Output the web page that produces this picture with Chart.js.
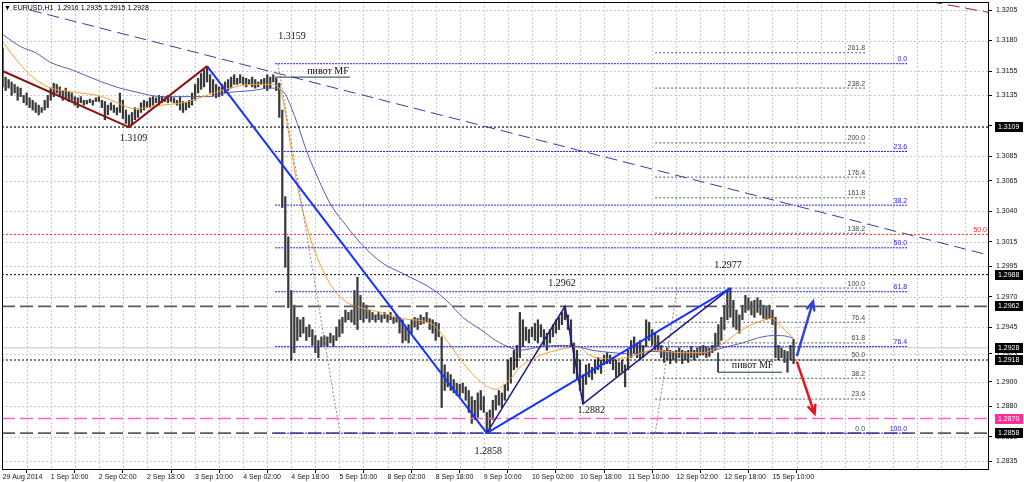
<!DOCTYPE html>
<html>
<head>
<meta charset="utf-8">
<title>EURUSD,H1</title>
<script src="https://cdn.jsdelivr.net/npm/chart.js@4.4.1/dist/chart.umd.min.js"></script>
<style>
  html, body { margin: 0; padding: 0; background: #fff; }
  canvas { display: block; }
</style>
</head>
<body>
<canvas id="chart" width="1024" height="482"></canvas>
<script>
// EURUSD H1, 29 Aug - 15 Sep 2014, one entry per hourly bar
const highs = [
  1.3174,1.3150,1.3148,1.3146,1.3144,1.3142,1.3141,1.3135,1.3137,1.3133,
  1.3131,1.3129,1.3127,1.3125,1.3131,1.3135,1.3141,1.3145,1.3144,1.3142,
  1.3139,1.3141,1.3138,1.3137,1.3134,1.3133,1.3134,1.3131,1.3131,1.3132,
  1.3131,1.3133,1.3134,1.3131,1.3130,1.3127,1.3129,1.3127,1.3125,1.3137,
  1.3131,1.3123,1.3119,1.3121,1.3125,1.3123,1.3129,1.3131,1.3130,1.3133,
  1.3134,1.3133,1.3135,1.3134,1.3133,1.3135,1.3134,1.3133,1.3131,1.3134,
  1.3130,1.3129,1.3131,1.3137,1.3144,1.3149,1.3153,1.3156,1.3159,1.3152,
  1.3148,1.3144,1.3142,1.3144,1.3146,1.3148,1.3150,1.3152,1.3149,1.3152,
  1.3150,1.3149,1.3148,1.3150,1.3148,1.3146,1.3148,1.3149,1.3152,1.3150,
  1.3152,1.3149,1.3145,1.3123,1.3052,1.3019,1.2975,1.2963,1.2953,1.2951,
  1.2953,1.2945,1.2947,1.2943,1.2938,1.2934,1.2937,1.2938,1.2937,1.2940,
  1.2938,1.2945,1.2951,1.2953,1.2959,1.2957,1.2959,1.2975,1.2986,1.2971,
  1.2965,1.2963,1.2959,1.2957,1.2955,1.2957,1.2955,1.2957,1.2955,1.2957,
  1.2953,1.2955,1.2953,1.2951,1.2945,1.2947,1.2951,1.2953,1.2952,1.2955,
  1.2953,1.2957,1.2952,1.2951,1.2949,1.2948,1.2937,1.2914,1.2908,1.2906,
  1.2902,1.2899,1.2898,1.2899,1.2896,1.2893,1.2888,1.2885,1.2891,1.2893,
  1.2888,1.2875,1.2877,1.2885,1.2889,1.2893,1.2891,1.2898,1.2918,1.2920,
  1.2926,1.2930,1.2957,1.2951,1.2945,1.2943,1.2945,1.2948,1.2951,1.2947,
  1.2943,1.2940,1.2943,1.2947,1.2951,1.2953,1.2957,1.2962,1.2955,1.2951,
  1.2932,1.2926,1.2918,1.2906,1.2914,1.2915,1.2912,1.2918,1.2920,1.2918,
  1.2922,1.2924,1.2922,1.2920,1.2918,1.2916,1.2918,1.2914,1.2926,1.2934,
  1.2937,1.2932,1.2934,1.2930,1.2951,1.2949,1.2943,1.2940,1.2938,1.2930,
  1.2926,1.2928,1.2926,1.2925,1.2926,1.2928,1.2926,1.2925,1.2926,1.2929,
  1.2926,1.2928,1.2929,1.2930,1.2929,1.2928,1.2930,1.2940,1.2947,1.2953,
  1.2963,1.2975,1.2977,1.2967,1.2959,1.2955,1.2963,1.2971,1.2969,1.2966,
  1.2967,1.2969,1.2967,1.2963,1.2961,1.2963,1.2959,1.2953,1.2930,1.2928,
  1.2926,1.2925,1.2930,1.2935
];
const lows = [
  1.3142,1.3139,1.3141,1.3135,1.3137,1.3131,1.3134,1.3129,1.3127,1.3125,
  1.3123,1.3121,1.3119,1.3121,1.3123,1.3125,1.3131,1.3134,1.3137,1.3134,
  1.3131,1.3133,1.3130,1.3131,1.3127,1.3125,1.3129,1.3127,1.3128,1.3129,
  1.3127,1.3130,1.3130,1.3125,1.3115,1.3119,1.3123,1.3121,1.3119,1.3121,
  1.3116,1.3112,1.3109,1.3111,1.3115,1.3117,1.3121,1.3123,1.3125,1.3125,
  1.3127,1.3129,1.3127,1.3129,1.3130,1.3129,1.3130,1.3129,1.3127,1.3123,
  1.3121,1.3123,1.3125,1.3127,1.3131,1.3137,1.3140,1.3142,1.3146,1.3137,
  1.3135,1.3133,1.3134,1.3135,1.3137,1.3139,1.3141,1.3144,1.3144,1.3145,
  1.3144,1.3142,1.3144,1.3142,1.3141,1.3142,1.3144,1.3141,1.3139,1.3141,
  1.3146,1.3139,1.3117,1.3043,1.2994,1.2961,1.2918,1.2924,1.2934,1.2937,
  1.2940,1.2934,1.2937,1.2930,1.2924,1.2920,1.2929,1.2930,1.2929,1.2932,
  1.2929,1.2934,1.2937,1.2940,1.2949,1.2951,1.2949,1.2947,1.2943,1.2951,
  1.2949,1.2952,1.2949,1.2951,1.2949,1.2951,1.2949,1.2952,1.2949,1.2951,
  1.2948,1.2949,1.2940,1.2932,1.2934,1.2932,1.2940,1.2945,1.2943,1.2947,
  1.2948,1.2949,1.2943,1.2940,1.2934,1.2937,1.2879,1.2893,1.2896,1.2893,
  1.2891,1.2889,1.2888,1.2891,1.2885,1.2875,1.2866,1.2869,1.2871,1.2877,
  1.2875,1.2858,1.2861,1.2869,1.2877,1.2881,1.2879,1.2885,1.2893,1.2899,
  1.2910,1.2912,1.2920,1.2929,1.2934,1.2932,1.2937,1.2934,1.2932,1.2937,
  1.2930,1.2926,1.2932,1.2937,1.2940,1.2943,1.2947,1.2951,1.2943,1.2929,
  1.2907,1.2902,1.2893,1.2882,1.2898,1.2904,1.2902,1.2907,1.2910,1.2907,
  1.2914,1.2915,1.2915,1.2910,1.2904,1.2906,1.2908,1.2896,1.2910,1.2920,
  1.2924,1.2920,1.2918,1.2920,1.2929,1.2934,1.2930,1.2926,1.2926,1.2920,
  1.2916,1.2918,1.2915,1.2918,1.2916,1.2920,1.2915,1.2918,1.2916,1.2920,
  1.2918,1.2920,1.2922,1.2922,1.2920,1.2921,1.2924,1.2926,1.2929,1.2934,
  1.2943,1.2951,1.2953,1.2945,1.2943,1.2940,1.2951,1.2957,1.2959,1.2955,
  1.2953,1.2957,1.2955,1.2952,1.2951,1.2952,1.2947,1.2920,1.2918,1.2920,
  1.2916,1.2908,1.2918,1.2915
];

// moving averages at a few bars
const maBars = [0,6,11,16,23,33,39,44,53,60,63,69,74,83,89,92,94,96,98,101,
  104,109,114,119,126,133,143,148,153,159,164,169,172,179,186,191,196,203,209,216,
  226,233,238,241,246,251,256,259,263];
const maFast = [1.3179,1.3160,1.3148,1.3141,1.3138,1.3134,1.3128,1.3124,1.3127,1.3129,
  1.3131,1.3136,1.3140,1.3144,1.3144,1.3141,1.3121,1.3090,1.3061,1.3029,
  1.3006,1.2980,1.2966,1.2961,1.2957,1.2952,1.2947,1.2933,1.2916,1.2900,
  1.2894,1.2903,1.2912,1.2922,1.2927,1.2929,1.2921,1.2919,1.2921,1.2926,
  1.2924,1.2924,1.2929,1.2934,1.2943,1.2949,1.2952,1.2945,1.2936];
const maSlow = [1.3185,1.3175,1.3170,1.3162,1.3156,1.3146,1.3141,1.3138,1.3134,1.3134,
  1.3134,1.3134,1.3137,1.3139,1.3141,1.3140,1.3136,1.3125,1.3112,1.3090,
  1.3072,1.3046,1.3029,1.3014,1.2998,1.2989,1.2976,1.2966,1.2953,1.2943,
  1.2934,1.2928,1.2926,1.2929,1.2930,1.2929,1.2926,1.2924,1.2923,1.2925,
  1.2924,1.2924,1.2927,1.2929,1.2932,1.2936,1.2938,1.2938,1.2936];

// axes
const xTickBars = [0,16,32,48,64,80,96,112,128,144,160,176,192,208,224,240,256];
const xTickLabels = ['29 Aug 2014','1 Sep 10:00','2 Sep 02:00','2 Sep 18:00','3 Sep 10:00',
  '4 Sep 02:00','4 Sep 18:00','5 Sep 10:00','8 Sep 02:00','8 Sep 18:00','9 Sep 10:00',
  '10 Sep 02:00','10 Sep 18:00','11 Sep 10:00','12 Sep 02:00','12 Sep 18:00','15 Sep 10:00'];
const yTicks = [1.3205,1.3180,1.3155,1.3135,1.3110,1.3085,1.3065,1.3040,1.3015,1.2995,
  1.2970,1.2945,1.2923,1.2900,1.2880,1.2855,1.2835];
const X_MIN = -0.2, X_MAX = 328;
const Y_MIN = 1.28278, Y_MAX = 1.32116;

// horizontal levels
const dottedLevels = [1.3109, 1.2988, 1.2918];
const dashedLevels = [1.2962, 1.2858];
const pinkLevel = 1.2870;
const redLevel = 1.3021;
const bidPrice = 1.2928;
const axisMarks = [1.3109, 1.2988, 1.2962, 1.2928, 1.2918, 1.2870, 1.2858];

// fibonacci grids
const fibBlueNames = ['0.0','23.6','38.2','50.0','61.8','76.4','100.0'];
const fibBluePrices = [1.3161,1.3089,1.3045,1.3010,1.2974,1.2929,1.2858];
const fibBlueFrom = 90.6, fibBlueTo = 300.8;
const fibGrayNames = ['0.0','23.6','38.2','50.0','61.8','76.4','100.0','138.2','161.8','176.4','200.0','238.2','261.8'];
const fibGrayPrices = [1.2858,1.2886,1.2903,1.2918,1.2932,1.2949,1.2977,1.3022,1.3051,1.3068,1.3096,1.3141,1.3170];
const fibGrayFrom = 217.0, fibGrayTo = 286.8;

// zigzags and trend lines [bar, price]
const brownZigBars = [0, 42, 68],        brownZigPrices = [1.3155, 1.3109, 1.3159];
const blueDropBars = [68, 161],          blueDropPrices = [1.3159, 1.2858];
const navyZigBars = [161, 187, 193, 242], navyZigPrices = [1.2858, 1.2962, 1.2882, 1.2977];
const blueRiseBars = [161, 242],         blueRisePrices = [1.2858, 1.2977];
const downTrendBars = [9.1, 328],        downTrendPrices = [1.3205, 1.3004];
const brownTrendBars = [308.4, 328],     brownTrendPrices = [1.3212, 1.3203];
const fibRayBars1 = [91.6, 112.2],       fibRayPrices1 = [1.3161, 1.2858];
const fibRayBars2 = [217.0, 224.3],      fibRayPrices2 = [1.2858, 1.2977];
const pivotBars1 = [90.6, 115.5],        pivotPrice1 = 1.3150;
const pivotBars2 = [237.9, 259.2],       pivotPrice2 = 1.2908, pivotTop2 = 1.2924;

// scenario arrows [from, to]
const upArrowBars = [264.2, 269.5],      upArrowPrices = [1.2922, 1.2966];
const downArrowBars = [264.2, 270.0],    downArrowPrices = [1.2916, 1.2874];

// text notes
const noteTexts = ['1.3159','1.3109','1.2858','1.2962','1.2882','1.2977','пивот MF','пивот MF'];
const noteBars = [96.2, 43.5, 161.5, 186.0, 195.7, 241.2, 108.2, 249.4];
const notePrices = [1.3183, 1.3100, 1.2843, 1.2981, 1.2877, 1.2996, 1.3155, 1.2914];

const SANS = "'Liberation Sans', Arial, sans-serif";
const SERIF = "'Liberation Serif', 'Times New Roman', serif";

function line(xs, ys, color, width, dash, order){
  return {
    type: 'line',
    data: xs.map((x, i) => ({ x: x, y: ys[i] })),
    borderColor: color, borderWidth: width, borderDash: dash || [],
    pointRadius: 0, fill: false, tension: 0, order: order || 1
  };
}
function level(price, color, width, dash, order){
  return line([X_MIN, X_MAX], [price, price], color, width, dash, order || 3);
}

const datasets = [];
datasets.push({
  type: 'bar',
  data: highs.map((h, i) => ({ x: i, y: [lows[i], h] })),
  backgroundColor: '#3a3a3a',
  borderWidth: 0,
  barThickness: 1.6,
  order: 8
});
datasets.push(Object.assign(line(maBars, maFast, '#ff9a2e', 1, [], 5), { cubicInterpolationMode: 'monotone' }));
datasets.push(Object.assign(line(maBars, maSlow, '#5a5ab4', 1, [], 5), { cubicInterpolationMode: 'monotone' }));

datasets.push(level(bidPrice, '#c4c4c4', 1, [], 9));
dottedLevels.forEach(p => datasets.push(level(p, '#000', 1, [2, 2])));
dashedLevels.forEach(p => datasets.push(level(p, '#5c5c5c', 1.6, [13, 5])));
datasets.push(level(pinkLevel, '#ff66b3', 1.6, [13, 5]));
datasets.push(level(redLevel, '#ff2a2a', 1, [2, 2]));

fibBluePrices.forEach(p => datasets.push(line([fibBlueFrom, fibBlueTo], [p, p], '#2424ff', 1, [2, 1], 2)));
fibGrayPrices.forEach(p => datasets.push(line([fibGrayFrom, fibGrayTo], [p, p], '#4d5e5e', 1, [2, 2], 2)));
datasets.push(line(fibRayBars1, fibRayPrices1, '#8a8a8a', 1, [2, 2], 2));
datasets.push(line(fibRayBars2, fibRayPrices2, '#8a8a8a', 1, [2, 2], 2));

datasets.push(line(downTrendBars, downTrendPrices, '#3b3ba6', 1, [12, 6], 2));
datasets.push(line(brownTrendBars, brownTrendPrices, '#a32020', 1, [12, 6], 2));

datasets.push(line(pivotBars1, [pivotPrice1, pivotPrice1], '#1f3a3a', 1, [], 1));
datasets.push(line(pivotBars2, [pivotPrice2, pivotPrice2], '#1f3a3a', 1, [], 1));
datasets.push(line([pivotBars2[0], pivotBars2[0]], [pivotTop2, pivotPrice2], '#1f3a3a', 1, [], 1));

datasets.push(line(brownZigBars, brownZigPrices, '#8c1414', 2, [], 1));
datasets.push(line(blueDropBars, blueDropPrices, '#1434ff', 2, [], 1));
datasets.push(line(blueRiseBars, blueRisePrices, '#1434ff', 2, [], 1));
datasets.push(line(navyZigBars, navyZigPrices, '#1c1c84', 1.5, [], 1));

function arrow(ctx, x0, y0, x1, y1, color){
  const a = Math.atan2(y1 - y0, x1 - x0), L = 9, w = 0.42;
  ctx.save();
  ctx.strokeStyle = color; ctx.lineWidth = 2.5; ctx.lineCap = 'round'; ctx.setLineDash([]);
  ctx.beginPath();
  ctx.moveTo(x0, y0); ctx.lineTo(x1, y1);
  ctx.moveTo(x1 - L * Math.cos(a - w), y1 - L * Math.sin(a - w));
  ctx.lineTo(x1, y1);
  ctx.lineTo(x1 - L * Math.cos(a + w), y1 - L * Math.sin(a + w));
  ctx.stroke();
  ctx.restore();
}

const overlay = {
  id: 'mt4Overlay',
  beforeDatasetsDraw(chart){
    const { ctx, chartArea: ca, scales: { x, y } } = chart;
    ctx.save();
    ctx.strokeStyle = '#c9c9c9'; ctx.lineWidth = 1; ctx.setLineDash([2, 2]);
    ctx.beginPath();
    for (let b = 8; b < X_MAX; b += 8) {
      const px = Math.round(x.getPixelForValue(b)) + 0.5;
      ctx.moveTo(px, ca.top); ctx.lineTo(px, ca.bottom);
    }
    yTicks.forEach(v => {
      const py = Math.round(y.getPixelForValue(v)) + 0.5;
      ctx.moveTo(ca.left, py); ctx.lineTo(ca.right, py);
    });
    ctx.stroke();
    ctx.restore();
  },
  afterDatasetsDraw(chart){
    const { ctx, scales: { x, y } } = chart;
    ctx.save();
    ctx.font = '7px ' + SANS;
    ctx.textAlign = 'right'; ctx.textBaseline = 'bottom';
    ctx.fillStyle = '#3d4a4a';
    fibGrayPrices.forEach((p, i) => ctx.fillText(fibGrayNames[i], x.getPixelForValue(fibGrayTo), y.getPixelForValue(p) - 1));
    ctx.fillStyle = '#2424ff';
    fibBluePrices.forEach((p, i) => ctx.fillText(fibBlueNames[i], x.getPixelForValue(fibBlueTo), y.getPixelForValue(p) - 1));
    ctx.fillStyle = '#ff2a2a';
    ctx.fillText('50.0', x.getPixelForValue(X_MAX) - 2, y.getPixelForValue(redLevel) - 1);

    ctx.font = '10px ' + SERIF;
    ctx.textAlign = 'center'; ctx.textBaseline = 'middle';
    ctx.fillStyle = '#111';
    noteTexts.forEach((t, i) => ctx.fillText(t, x.getPixelForValue(noteBars[i]), y.getPixelForValue(notePrices[i])));
    ctx.restore();

    arrow(ctx, x.getPixelForValue(upArrowBars[0]), y.getPixelForValue(upArrowPrices[0]),
      x.getPixelForValue(upArrowBars[1]), y.getPixelForValue(upArrowPrices[1]), '#3142d8');
    arrow(ctx, x.getPixelForValue(downArrowBars[0]), y.getPixelForValue(downArrowPrices[0]),
      x.getPixelForValue(downArrowBars[1]), y.getPixelForValue(downArrowPrices[1]), '#e8141e');
  },
  afterDraw(chart){
    const { ctx, chartArea: ca, scales: { y } } = chart;
    ctx.save();
    ctx.strokeStyle = '#000'; ctx.lineWidth = 1; ctx.setLineDash([]);
    ctx.strokeRect(ca.left + 0.5, ca.top + 0.5, ca.right - ca.left - 1, ca.bottom - ca.top - 1);

    ctx.font = '7px ' + SANS;
    ctx.textAlign = 'left'; ctx.textBaseline = 'middle';
    axisMarks.forEach(p => {
      const py = Math.round(y.getPixelForValue(p));
      ctx.fillStyle = p === pinkLevel ? '#ff2d96' : '#000';
      ctx.fillRect(ca.right + 6, py - 5, 28, 10);
      ctx.fillStyle = '#fff';
      ctx.fillText(p.toFixed(4), ca.right + 9, py + 0.5);
    });

    ctx.fillStyle = '#000';
    ctx.fillText('\u25BC', 4, 8);
    ctx.fillText('EURUSD,H1  1.2916 1.2935 1.2915 1.2928', 13, 8);
    ctx.restore();
  }
};

new Chart(document.getElementById('chart'), {
  type: 'bar',
  data: { datasets: datasets },
  options: {
    responsive: false,
    animation: false,
    devicePixelRatio: 1,
    layout: { padding: { left: 2, top: 2, right: 0, bottom: 0 } },
    plugins: { legend: { display: false }, tooltip: { enabled: false } },
    scales: {
      x: {
        type: 'linear', min: X_MIN, max: X_MAX, offset: false,
        afterBuildTicks: s => { s.ticks = xTickBars.map(v => ({ value: v })); },
        afterFit: s => { s.height = 12; s.paddingLeft = 0; s.paddingRight = 0; },
        ticks: {
          autoSkip: false, maxRotation: 0, minRotation: 0, align: 'start', padding: 0,
          color: '#111', font: { family: SANS, size: 7 },
          callback: v => xTickLabels[xTickBars.indexOf(v)]
        },
        grid: { drawOnChartArea: false, drawTicks: true, tickLength: 3, color: '#000' },
        border: { display: false }
      },
      y: {
        position: 'right', min: Y_MIN, max: Y_MAX,
        afterBuildTicks: s => { s.ticks = yTicks.map(v => ({ value: v })); },
        afterFit: s => { s.width = 35; s.paddingTop = 0; s.paddingBottom = 0; },
        ticks: {
          autoSkip: false, padding: 4, color: '#111', font: { family: SANS, size: 7 },
          callback: v => v.toFixed(4)
        },
        grid: { drawOnChartArea: false, drawTicks: true, tickLength: 3, color: '#000' },
        border: { display: false }
      }
    }
  },
  plugins: [overlay]
});
</script>
</body>
</html>
